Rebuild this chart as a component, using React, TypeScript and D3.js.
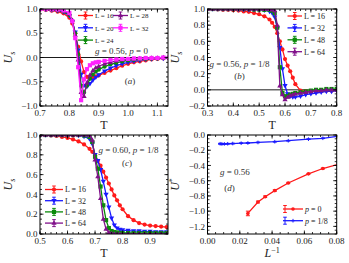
import React from 'react';
import * as d3 from 'd3';

const FONT = "'Liberation Serif', 'DejaVu Serif', serif";

// ---------- Panel (a): g = 0.56, p = 0 ----------
const aT = [0.70,0.72,0.74,0.76,0.78,0.80,0.81,0.82,0.83,0.84,0.85,0.86,0.87,0.88,0.89,0.90,0.92,0.94,0.96,0.98,1.00,1.02,1.04,1.06,1.08,1.10,1.12,1.14];
const aU16 = [0.99,0.98,0.965,0.945,0.91,0.82,0.70,0.50,0.22,-0.08,-0.30,-0.40,-0.42,-0.41,-0.39,-0.37,-0.32,-0.27,-0.22,-0.17,-0.13,-0.10,-0.08,-0.06,-0.04,-0.03,-0.02,-0.02];
const aU20 = [1.0,0.99,0.98,0.965,0.94,0.86,0.74,0.52,0.15,-0.35,-0.58,-0.60,-0.54,-0.47,-0.41,-0.36,-0.28,-0.22,-0.17,-0.13,-0.10,-0.08,-0.06,-0.04,-0.03,-0.02,-0.02,-0.01];
const aU24 = [1.0,0.995,0.985,0.97,0.95,0.88,0.76,0.50,0.06,-0.58,-0.72,-0.58,-0.44,-0.35,-0.29,-0.25,-0.19,-0.14,-0.11,-0.08,-0.06,-0.05,-0.04,-0.03,-0.02,-0.02,-0.01,-0.01];
const aU28 = [1.0,1.0,0.99,0.98,0.96,0.90,0.77,0.46,-0.05,-0.72,-0.80,-0.52,-0.36,-0.27,-0.21,-0.18,-0.13,-0.10,-0.07,-0.05,-0.04,-0.03,-0.02,-0.02,-0.01,-0.01,0.0,0.0];
const aU32 = [1.0,1.0,0.995,0.99,0.97,0.92,0.75,0.40,-0.20,-0.88,-0.45,-0.24,-0.16,-0.12,-0.10,-0.09,-0.07,-0.05,-0.04,-0.03,-0.03,-0.02,-0.02,-0.01,-0.01,-0.01,0.0,0.0];
const aXTicks = [0.7,0.8,0.9,1.0,1.1];
const aYTicks = [-1.0,-0.5,0.0,0.5,1.0];

// ---------- Panel (b): g = 0.56, p = 1/8 ----------
const bT = [0.30,0.32,0.34,0.36,0.38,0.40,0.42,0.44,0.46,0.48,0.50,0.52,0.54,0.55,0.56,0.57,0.58,0.59,0.60,0.61,0.62,0.63,0.64,0.66,0.68,0.70,0.72,0.74,0.76,0.78,0.80];
const bU16 = [1.0,1.0,0.995,0.99,0.99,0.985,0.98,0.97,0.965,0.95,0.935,0.91,0.87,0.83,0.78,0.70,0.60,0.50,0.38,0.30,0.23,0.15,0.07,-0.01,-0.02,-0.02,-0.02,-0.015,-0.01,-0.01,-0.005];
const bU32 = [1.0,1.0,1.0,1.0,1.0,1.0,0.995,0.995,0.99,0.99,0.99,0.985,0.97,0.95,0.90,0.76,0.52,0.26,0.05,-0.05,-0.08,-0.09,-0.09,-0.08,-0.06,-0.05,-0.04,-0.03,-0.02,-0.02,-0.01];
const bU48 = [1.0,1.0,1.0,1.0,1.0,1.0,1.0,1.0,1.0,0.995,0.995,0.99,0.99,0.98,0.95,0.77,0.28,-0.04,-0.08,-0.08,-0.06,-0.05,-0.04,-0.03,-0.02,-0.01,0.0,0.0,0.01,0.01,0.01];
const bU64 = [1.0,1.0,1.0,1.0,1.0,1.0,1.0,1.0,1.0,1.0,1.0,0.995,0.995,0.99,0.98,0.80,0.05,-0.06,-0.12,-0.09,-0.07,-0.06,-0.05,-0.04,-0.03,-0.02,-0.01,-0.01,0.0,0.0,0.0];
const bXTicks = [0.3,0.4,0.5,0.6,0.7,0.8];
const bYTicks = [-0.2,0.0,0.2,0.4,0.6,0.8,1.0];

// ---------- Panel (c): g = 0.60, p = 1/8 ----------
const cT = [0.50,0.52,0.54,0.56,0.58,0.60,0.62,0.64,0.66,0.68,0.69,0.70,0.71,0.72,0.73,0.74,0.75,0.76,0.77,0.78,0.79,0.80,0.82,0.84,0.86,0.88,0.90,0.92,0.94,0.96];
const cU16 = [1.0,1.0,0.995,0.99,0.98,0.97,0.955,0.935,0.905,0.86,0.83,0.79,0.74,0.69,0.63,0.57,0.51,0.45,0.39,0.34,0.29,0.25,0.18,0.14,0.11,0.095,0.085,0.08,0.075,0.07];
const cU32 = [1.0,1.0,1.0,1.0,1.0,1.0,1.0,0.995,0.985,0.96,0.91,0.80,0.74,0.65,0.53,0.40,0.27,0.16,0.09,0.06,0.045,0.04,0.035,0.03,0.03,0.025,0.025,0.02,0.02,0.02];
const cU48 = [1.0,1.0,1.0,1.0,1.0,1.0,1.0,1.0,0.995,0.98,0.93,0.78,0.66,0.48,0.29,0.14,0.06,0.03,0.02,0.015,0.01,0.01,0.01,0.01,0.01,0.01,0.01,0.01,0.01,0.01];
const cU64 = [1.0,1.0,1.0,1.0,1.0,1.0,1.0,1.0,1.0,0.995,0.95,0.75,0.58,0.36,0.15,0.05,0.015,0.005,0.0,0.0,0.0,0.0,0.0,0.0,0.0,0.0,0.0,0.0,0.0,0.0];
const cXTicks = [0.5,0.6,0.7,0.8,0.9];
const cYTicks = [0.0,0.2,0.4,0.6,0.8,1.0];

// ---------- Panel (d): U* vs 1/L ----------
const dL0 = [40,32,28,24,20,16,14,12];
const dU0 = [-1.03,-0.88,-0.81,-0.73,-0.63,-0.51,-0.44,-0.37];
const dE0 = [0.03,0.012,0.01,0.01,0.008,0.006,0.006,0.005];
const dL8 = [128,112,96,80,64,48,40,32,24,20,16,14,12];
const dU8 = [-0.115,-0.118,-0.117,-0.115,-0.112,-0.108,-0.105,-0.098,-0.088,-0.075,-0.055,-0.043,-0.01];
const dE8 = [0.006,0.006,0.005,0.005,0.005,0.004,0.004,0.004,0.004,0.004,0.004,0.004,0.004];
const dXTicks = [0.0,0.02,0.04,0.06,0.08];
const dYTicks = [-1.2,-1.0,-0.8,-0.6,-0.4,-0.2,0.0];

const RED = '#ff1a1a';
const BLUE = '#1a1aff';
const GREEN = '#0a8a0a';
const PURPLE = '#80108a';
const MAGENTA = '#ff22ff';

type Series = { x: number[]; y: number[]; err?: number[]; color: string; shape: string; label: React.ReactNode };

function Marker({ shape, cx, cy, color, s = 2.1 }: { shape: string; cx: number; cy: number; color: string; s?: number }) {
  if (shape === 'circle') return <circle cx={cx} cy={cy} r={s} fill={color} />;
  if (shape === 'square') return <rect x={cx - s} y={cy - s} width={2 * s} height={2 * s} fill={color} />;
  if (shape === 'tdown')
    return <path d={`M${cx - s * 1.25},${cy - s * 0.8}L${cx + s * 1.25},${cy - s * 0.8}L${cx},${cy + s * 1.3}Z`} fill={color} />;
  if (shape === 'tup')
    return <path d={`M${cx - s * 1.25},${cy + s * 0.8}L${cx + s * 1.25},${cy + s * 0.8}L${cx},${cy - s * 1.3}Z`} fill={color} />;
  if (shape === 'plus')
    return (
      <g stroke={color} strokeWidth={1}>
        <line x1={cx - s} x2={cx + s} y1={cy} y2={cy} />
        <line x1={cx} x2={cx} y1={cy - s} y2={cy + s} />
      </g>
    );
  return null;
}

function minorVals(domain: [number, number], step: number) {
  const lo = Math.min(domain[0], domain[1]);
  const hi = Math.max(domain[0], domain[1]);
  const out: number[] = [];
  const start = Math.ceil(lo / step - 1e-6);
  const end = Math.floor(hi / step + 1e-6);
  for (let i = start; i <= end; i++) out.push(i * step);
  return out;
}

type PanelProps = {
  id: string;
  l: number; r: number; t: number; b: number;
  xd: [number, number]; yd: [number, number];
  xTicks: number[]; yTicks: number[];
  xMinor: number; yMinor: number;
  xFmt: string; yFmt: string;
  series: Series[];
  zeroLine?: boolean;
  legend: { x: number; y: number; dy: number; cols?: number; colDx?: number; handleW: number; errCaps?: boolean; fontSize?: number };
  yLabel: React.ReactNode; yLabelX: number;
  xLabel: React.ReactNode;
  notes: React.ReactNode;
  markerSize?: number;
};

function Panel(p: PanelProps) {
  const x = d3.scaleLinear().domain(p.xd).range([p.l, p.r]);
  const y = d3.scaleLinear().domain(p.yd).range([p.b, p.t]);
  const xf = d3.format(p.xFmt);
  const yf = d3.format(p.yFmt);
  const inX = (v: number) => v >= Math.min(...p.xd) - 1e-9 && v <= Math.max(...p.xd) + 1e-9;
  const inY = (v: number) => v >= Math.min(...p.yd) - 1e-9 && v <= Math.max(...p.yd) + 1e-9;
  const xMin = minorVals(p.xd, p.xMinor).filter(inX);
  const yMin = minorVals(p.yd, p.yMinor).filter(inY);
  const ML = 3.5, Mn = 2;
  const ms = p.markerSize ?? 2.1;
  const cols = p.legend.cols ?? 1;
  const perCol = Math.ceil(p.series.length / cols);
  return (
    <g>
      <defs>
        <clipPath id={`clip-${p.id}`}>
          <rect x={p.l} y={p.t} width={p.r - p.l} height={p.b - p.t} />
        </clipPath>
      </defs>
      {p.zeroLine && (
        <line x1={p.l} x2={p.r} y1={y(0)} y2={y(0)} stroke="#000" strokeWidth={0.9} />
      )}
      <g clipPath={`url(#clip-${p.id})`}>
        {p.series.map((s, si) => {
          const pts = s.x.map((xv, i) => [x(xv), y(s.y[i])] as [number, number]);
          const d = d3.line()(pts) || '';
          return (
            <g key={si}>
              <path d={d} fill="none" stroke={s.color} strokeWidth={1.3} />
              {s.err &&
                s.x.map((xv, i) => {
                  const e = s.err![i];
                  const y1 = y(s.y[i] - e), y2 = y(s.y[i] + e);
                  return (
                    <g key={`e${i}`} stroke={s.color} strokeWidth={1}>
                      <line x1={x(xv)} x2={x(xv)} y1={y1} y2={y2} />
                      <line x1={x(xv) - 2} x2={x(xv) + 2} y1={y1} y2={y1} />
                      <line x1={x(xv) - 2} x2={x(xv) + 2} y1={y2} y2={y2} />
                    </g>
                  );
                })}
              {pts.map((pt, i) => (
                <Marker key={i} shape={s.shape} cx={pt[0]} cy={pt[1]} color={s.color} s={ms} />
              ))}
            </g>
          );
        })}
      </g>
      <rect x={p.l} y={p.t} width={p.r - p.l} height={p.b - p.t} fill="none" stroke="#000" strokeWidth={1} />
      <g stroke="#000" strokeWidth={0.8}>
        {p.xTicks.filter(inX).map((v, i) => (
          <g key={`xt${i}`}>
            <line x1={x(v)} x2={x(v)} y1={p.b} y2={p.b - ML} />
            <line x1={x(v)} x2={x(v)} y1={p.t} y2={p.t + ML} />
          </g>
        ))}
        {xMin.map((v, i) => (
          <g key={`xm${i}`}>
            <line x1={x(v)} x2={x(v)} y1={p.b} y2={p.b - Mn} />
            <line x1={x(v)} x2={x(v)} y1={p.t} y2={p.t + Mn} />
          </g>
        ))}
        {p.yTicks.filter(inY).map((v, i) => (
          <g key={`yt${i}`}>
            <line x1={p.l} x2={p.l + ML} y1={y(v)} y2={y(v)} />
            <line x1={p.r} x2={p.r - ML} y1={y(v)} y2={y(v)} />
          </g>
        ))}
        {yMin.map((v, i) => (
          <g key={`ym${i}`}>
            <line x1={p.l} x2={p.l + Mn} y1={y(v)} y2={y(v)} />
            <line x1={p.r} x2={p.r - Mn} y1={y(v)} y2={y(v)} />
          </g>
        ))}
      </g>
      <g fontFamily={FONT} fontSize={9} fill="#222">
        {p.xTicks.map((v, i) => (
          <text key={`xl${i}`} x={x(v)} y={p.b + 10} textAnchor="middle">{xf(v)}</text>
        ))}
        {p.yTicks.map((v, i) => (
          <text key={`yl${i}`} x={p.l - 2.5} y={y(v) + 3.2} textAnchor="end">{yf(v)}</text>
        ))}
      </g>
      <text x={(p.l + p.r) / 2} y={p.b + 23} textAnchor="middle" fontFamily={FONT} fontSize={12} fill="#222">{p.xLabel}</text>
      <text transform={`translate(${p.yLabelX},${(p.t + p.b) / 2}) rotate(-90)`} textAnchor="middle" fontFamily={FONT} fontSize={12} fill="#222">{p.yLabel}</text>
      <g fontFamily={FONT} fontSize={p.legend.fontSize ?? 8} fill="#222">
        {p.series.map((s, i) => {
          const col = Math.floor(i / perCol);
          const row = i % perCol;
          const lx = p.legend.x + col * (p.legend.colDx ?? 0);
          const ly = p.legend.y + row * p.legend.dy;
          const hw = p.legend.handleW;
          const cx = lx + hw / 2;
          const capX = p.legend.errCaps ? lx + 2 : cx;
          return (
            <g key={`lg${i}`}>
              <line x1={lx} x2={lx + hw} y1={ly} y2={ly} stroke={s.color} strokeWidth={1.3} />
              <line x1={capX} x2={capX} y1={ly - 3.5} y2={ly + 3.5} stroke={s.color} strokeWidth={1} />
              <line x1={capX - 1.8} x2={capX + 1.8} y1={ly - 3.5} y2={ly - 3.5} stroke={s.color} strokeWidth={1} />
              <line x1={capX - 1.8} x2={capX + 1.8} y1={ly + 3.5} y2={ly + 3.5} stroke={s.color} strokeWidth={1} />
              <Marker shape={s.shape} cx={cx} cy={ly} color={s.color} s={ms} />
              <text x={lx + hw + 2} y={ly + 2.8}>{s.label}</text>
            </g>
          );
        })}
      </g>
      {p.notes}
    </g>
  );
}

const Lbl = (n: string) => <tspan>L = {n}</tspan>;
const Us = (
  <>
    <tspan fontStyle="italic">U</tspan>
    <tspan fontSize={8} dy={2.5} fontStyle="italic">s</tspan>
  </>
);

function Note({ x, y, children, anchor = 'start' }: { x: number; y: number; children: React.ReactNode; anchor?: string }) {
  return (
    <text x={x} y={y} fontFamily={FONT} fontSize={9} fill="#333" textAnchor={anchor as any}>{children}</text>
  );
}

export default function App() {
  const seriesA: Series[] = [
    { x: aT, y: aU16, color: RED, shape: 'circle', label: Lbl('16') },
    { x: aT, y: aU20, color: BLUE, shape: 'tdown', label: Lbl('20') },
    { x: aT, y: aU24, color: GREEN, shape: 'circle', label: Lbl('24') },
    { x: aT, y: aU28, color: PURPLE, shape: 'tup', label: Lbl('28') },
    { x: aT, y: aU32, color: MAGENTA, shape: 'square', label: Lbl('32') },
  ];
  const seriesB: Series[] = [
    { x: bT, y: bU16, color: RED, shape: 'circle', label: Lbl('16') },
    { x: bT, y: bU32, color: BLUE, shape: 'tdown', label: Lbl('32') },
    { x: bT, y: bU48, color: GREEN, shape: 'square', label: Lbl('48') },
    { x: bT, y: bU64, color: PURPLE, shape: 'tup', label: Lbl('64') },
  ];
  const seriesC: Series[] = [
    { x: cT, y: cU16, color: RED, shape: 'circle', label: Lbl('16') },
    { x: cT, y: cU32, color: BLUE, shape: 'tdown', label: Lbl('32') },
    { x: cT, y: cU48, color: GREEN, shape: 'square', label: Lbl('48') },
    { x: cT, y: cU64, color: PURPLE, shape: 'tup', label: Lbl('64') },
  ];
  const seriesD: Series[] = [
    {
      x: dL0.map((L) => 1 / L), y: dU0, err: dE0, color: RED, shape: 'circle',
      label: <><tspan fontStyle="italic">p</tspan> = 0</>,
    },
    {
      x: dL8.map((L) => 1 / L), y: dU8, err: dE8, color: BLUE, shape: 'plus',
      label: <><tspan fontStyle="italic">p</tspan> = 1/8</>,
    },
  ];

  return (
    <svg width={349} height={263} style={{ position: 'absolute', left: 0, top: 0, background: '#fff' }}>
      <rect width={349} height={263} fill="#fff" />
      <Panel
        id="a" l={40} r={168} t={9} b={106}
        xd={[0.7, 1.136]} yd={[-1.0, 1.0]}
        xTicks={aXTicks} yTicks={aYTicks} xMinor={0.02} yMinor={0.1}
        xFmt=".1f" yFmt=".1f" series={seriesA} zeroLine
        legend={{ x: 78, y: 15.5, dy: 12.3, cols: 2, colDx: 35, handleW: 15, fontSize: 7 }}
        yLabel={Us} yLabelX={12} xLabel={<tspan>T</tspan>}
        notes={<>
          <Note x={95} y={54}><tspan fontStyle="italic">g</tspan> = 0.56, <tspan fontStyle="italic">p</tspan> = 0</Note>
          <Note x={130} y={84} anchor="middle">(<tspan fontStyle="italic">a</tspan>)</Note>
        </>}
      />
      <Panel
        id="b" l={207.5} r={336.7} t={9} b={106}
        xd={[0.3, 0.8]} yd={[-0.2, 1.0]}
        xTicks={bXTicks} yTicks={bYTicks} xMinor={0.02} yMinor={0.05}
        xFmt=".1f" yFmt=".1f" series={seriesB} zeroLine
        legend={{ x: 287.5, y: 16, dy: 11.9, handleW: 14.5 }}
        yLabel={Us} yLabelX={179} xLabel={<tspan>T</tspan>}
        notes={<>
          <Note x={209.5} y={66.5}><tspan fontStyle="italic">g</tspan> = 0.56, <tspan fontStyle="italic">p</tspan> = 1/8</Note>
          <Note x={239.5} y={78.5} anchor="middle">(<tspan fontStyle="italic">b</tspan>)</Note>
        </>}
      />
      <Panel
        id="c" l={40} r={168} t={135} b={234}
        xd={[0.5, 0.965]} yd={[0.0, 1.0]}
        xTicks={cXTicks} yTicks={cYTicks} xMinor={0.02} yMinor={0.05}
        xFmt=".1f" yFmt=".1f" series={seriesC}
        legend={{ x: 45, y: 189.5, dy: 11.2, handleW: 18 }}
        yLabel={Us} yLabelX={12} xLabel={<tspan>T</tspan>}
        notes={<>
          <Note x={98.5} y={153}><tspan fontStyle="italic">g</tspan> = 0.60, <tspan fontStyle="italic">p</tspan> = 1/8</Note>
          <Note x={127} y={166} anchor="middle">(<tspan fontStyle="italic">c</tspan>)</Note>
        </>}
      />
      <Panel
        id="d" l={207.5} r={336.7} t={135} b={234}
        xd={[0.0, 0.08]} yd={[-1.3, 0.0]}
        xTicks={dXTicks} yTicks={dYTicks} xMinor={0.005} yMinor={0.05}
        xFmt=".2f" yFmt=".1f" series={seriesD} markerSize={1.8}
        legend={{ x: 283, y: 209, dy: 11.7, handleW: 20, errCaps: true }}
        yLabel={<><tspan fontStyle="italic">U</tspan><tspan fontSize={8} dy={-4}>*</tspan></>} yLabelX={179}
        xLabel={<><tspan fontStyle="italic">L</tspan><tspan fontSize={8} dy={-4}>−1</tspan></>}
        notes={<>
          <Note x={220} y={174.5}><tspan fontStyle="italic">g</tspan> = 0.56</Note>
          <Note x={229.5} y={191} anchor="middle">(<tspan fontStyle="italic">d</tspan>)</Note>
        </>}
      />
    </svg>
  );
}
